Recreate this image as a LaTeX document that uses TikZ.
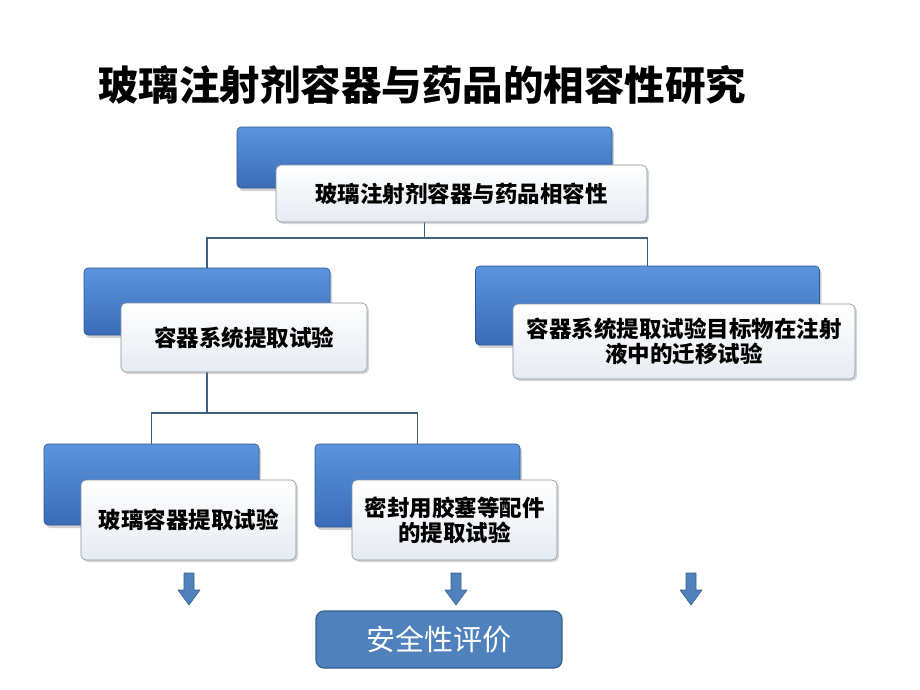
\documentclass[tikz,border=0pt]{standalone}
\usepackage{fontspec}
\setmainfont{Noto Sans CJK SC}
\usetikzlibrary{shadows,backgrounds}
\pgfdeclarelayer{paper}
\pgfsetlayers{paper,background,main}
\definecolor{bluetop}{HTML}{5B94DD}
\definecolor{bluebot}{HTML}{3A6CB6}
\definecolor{blueedge}{HTML}{2E5790}
\definecolor{linec}{HTML}{3F5F80}
\definecolor{safe}{HTML}{4F81BD}
\definecolor{safeedge}{HTML}{3A5F8E}
\definecolor{whitebot}{HTML}{E6EBF2}
\definecolor{whiteedge}{HTML}{8792A0}
\tikzset{
  bluebox/.style={rectangle, rounded corners=4pt, top color=bluetop, bottom color=bluebot,
    draw=blueedge, line width=0.6pt, inner sep=0pt,
    drop shadow={shadow xshift=2pt, shadow yshift=-3pt, opacity=0.35}},
  whitebox/.style={rectangle, rounded corners=5pt, top color=white, bottom color=whitebot,
    draw=whiteedge, line width=0.6pt, inner sep=0pt, align=center,
    font=\fontsize{22.5}{25}\selectfont\bfseries,
    drop shadow={shadow xshift=2pt, shadow yshift=-2pt, opacity=0.3}},
  conn/.style={draw=linec, line width=1.6pt},
  downarrow/.style={fill=safe, draw=safeedge, line width=0.6pt, line join=round},
  safebox/.style={rectangle, rounded corners=8pt, fill=safe, draw=safeedge, line width=1.2pt,
    text=white, font=\fontsize{29}{32}\selectfont, inner sep=0pt}
}
\begin{document}
\begin{tikzpicture}[x=1pt,y=-1pt]
\begin{pgfonlayer}{paper}
\fill[white] (0,0) rectangle (920,690);
\end{pgfonlayer}
\useasboundingbox (0,0) rectangle (920,690);
% title
\node[font=\fontsize{40.5}{44}\selectfont\bfseries, anchor=center] (title) at (422,85) {玻璃注射剂容器与药品的相容性研究};
% level 1
\node[bluebox, minimum width=375pt, minimum height=61pt] (b1) at (424.5,157.5) {};
% level 2
\node[bluebox, minimum width=246pt, minimum height=67pt] (b2l) at (207,301.5) {};
\node[bluebox, minimum width=344pt, minimum height=79pt] (b2r) at (647.5,305.5) {};
% level 3
\node[bluebox, minimum width=215pt, minimum height=81pt] (b3l) at (151.5,484.5) {};
\node[bluebox, minimum width=205pt, minimum height=83pt] (b3m) at (417.5,485.5) {};
% connectors behind
\begin{pgfonlayer}{background}
\coordinate (j1) at (424.5,238);
\coordinate (j2) at (207,413);
\draw[conn] (b1.center) -- (j1);
\draw[conn] (j1) -| (b2l.north);
\draw[conn] (j1) -| (b2r.north);
\draw[conn] (b2l.center) -- (j2);
\draw[conn] (j2) -| (b3l.north);
\draw[conn] (j2) -| (b3m.north);
\end{pgfonlayer}
% white boxes
\node[whitebox, minimum width=371pt, minimum height=57pt] (w1) at (461.5,193.5) {玻璃注射剂容器与药品相容性};
\node[whitebox, minimum width=246pt, minimum height=69pt] (w2l) at (244,337.5) {容器系统提取试验};
\node[whitebox, minimum width=342pt, minimum height=75pt] (w2r) at (684,341.5) {容器系统提取试验目标物在注射\\液中的迁移试验};
\node[whitebox, minimum width=215pt, minimum height=80pt] (w3l) at (188.5,520) {玻璃容器提取试验};
\node[whitebox, minimum width=205pt, minimum height=80pt] (w3m) at (454.5,520) {密封用胶塞等配件\\的提取试验};
% down arrows
\foreach \ax in {189,456,691}{
  \draw[downarrow] (\ax-5,573) -- (\ax+5,573) -- (\ax+5,590) -- (\ax+11,590) -- (\ax,605)
     -- (\ax-11,590) -- (\ax-5,590) -- cycle;
}
% safety evaluation
\node[safebox, minimum width=246pt, minimum height=57pt] (safe) at (439,639.5) {安全性评价};
\end{tikzpicture}
\end{document}
